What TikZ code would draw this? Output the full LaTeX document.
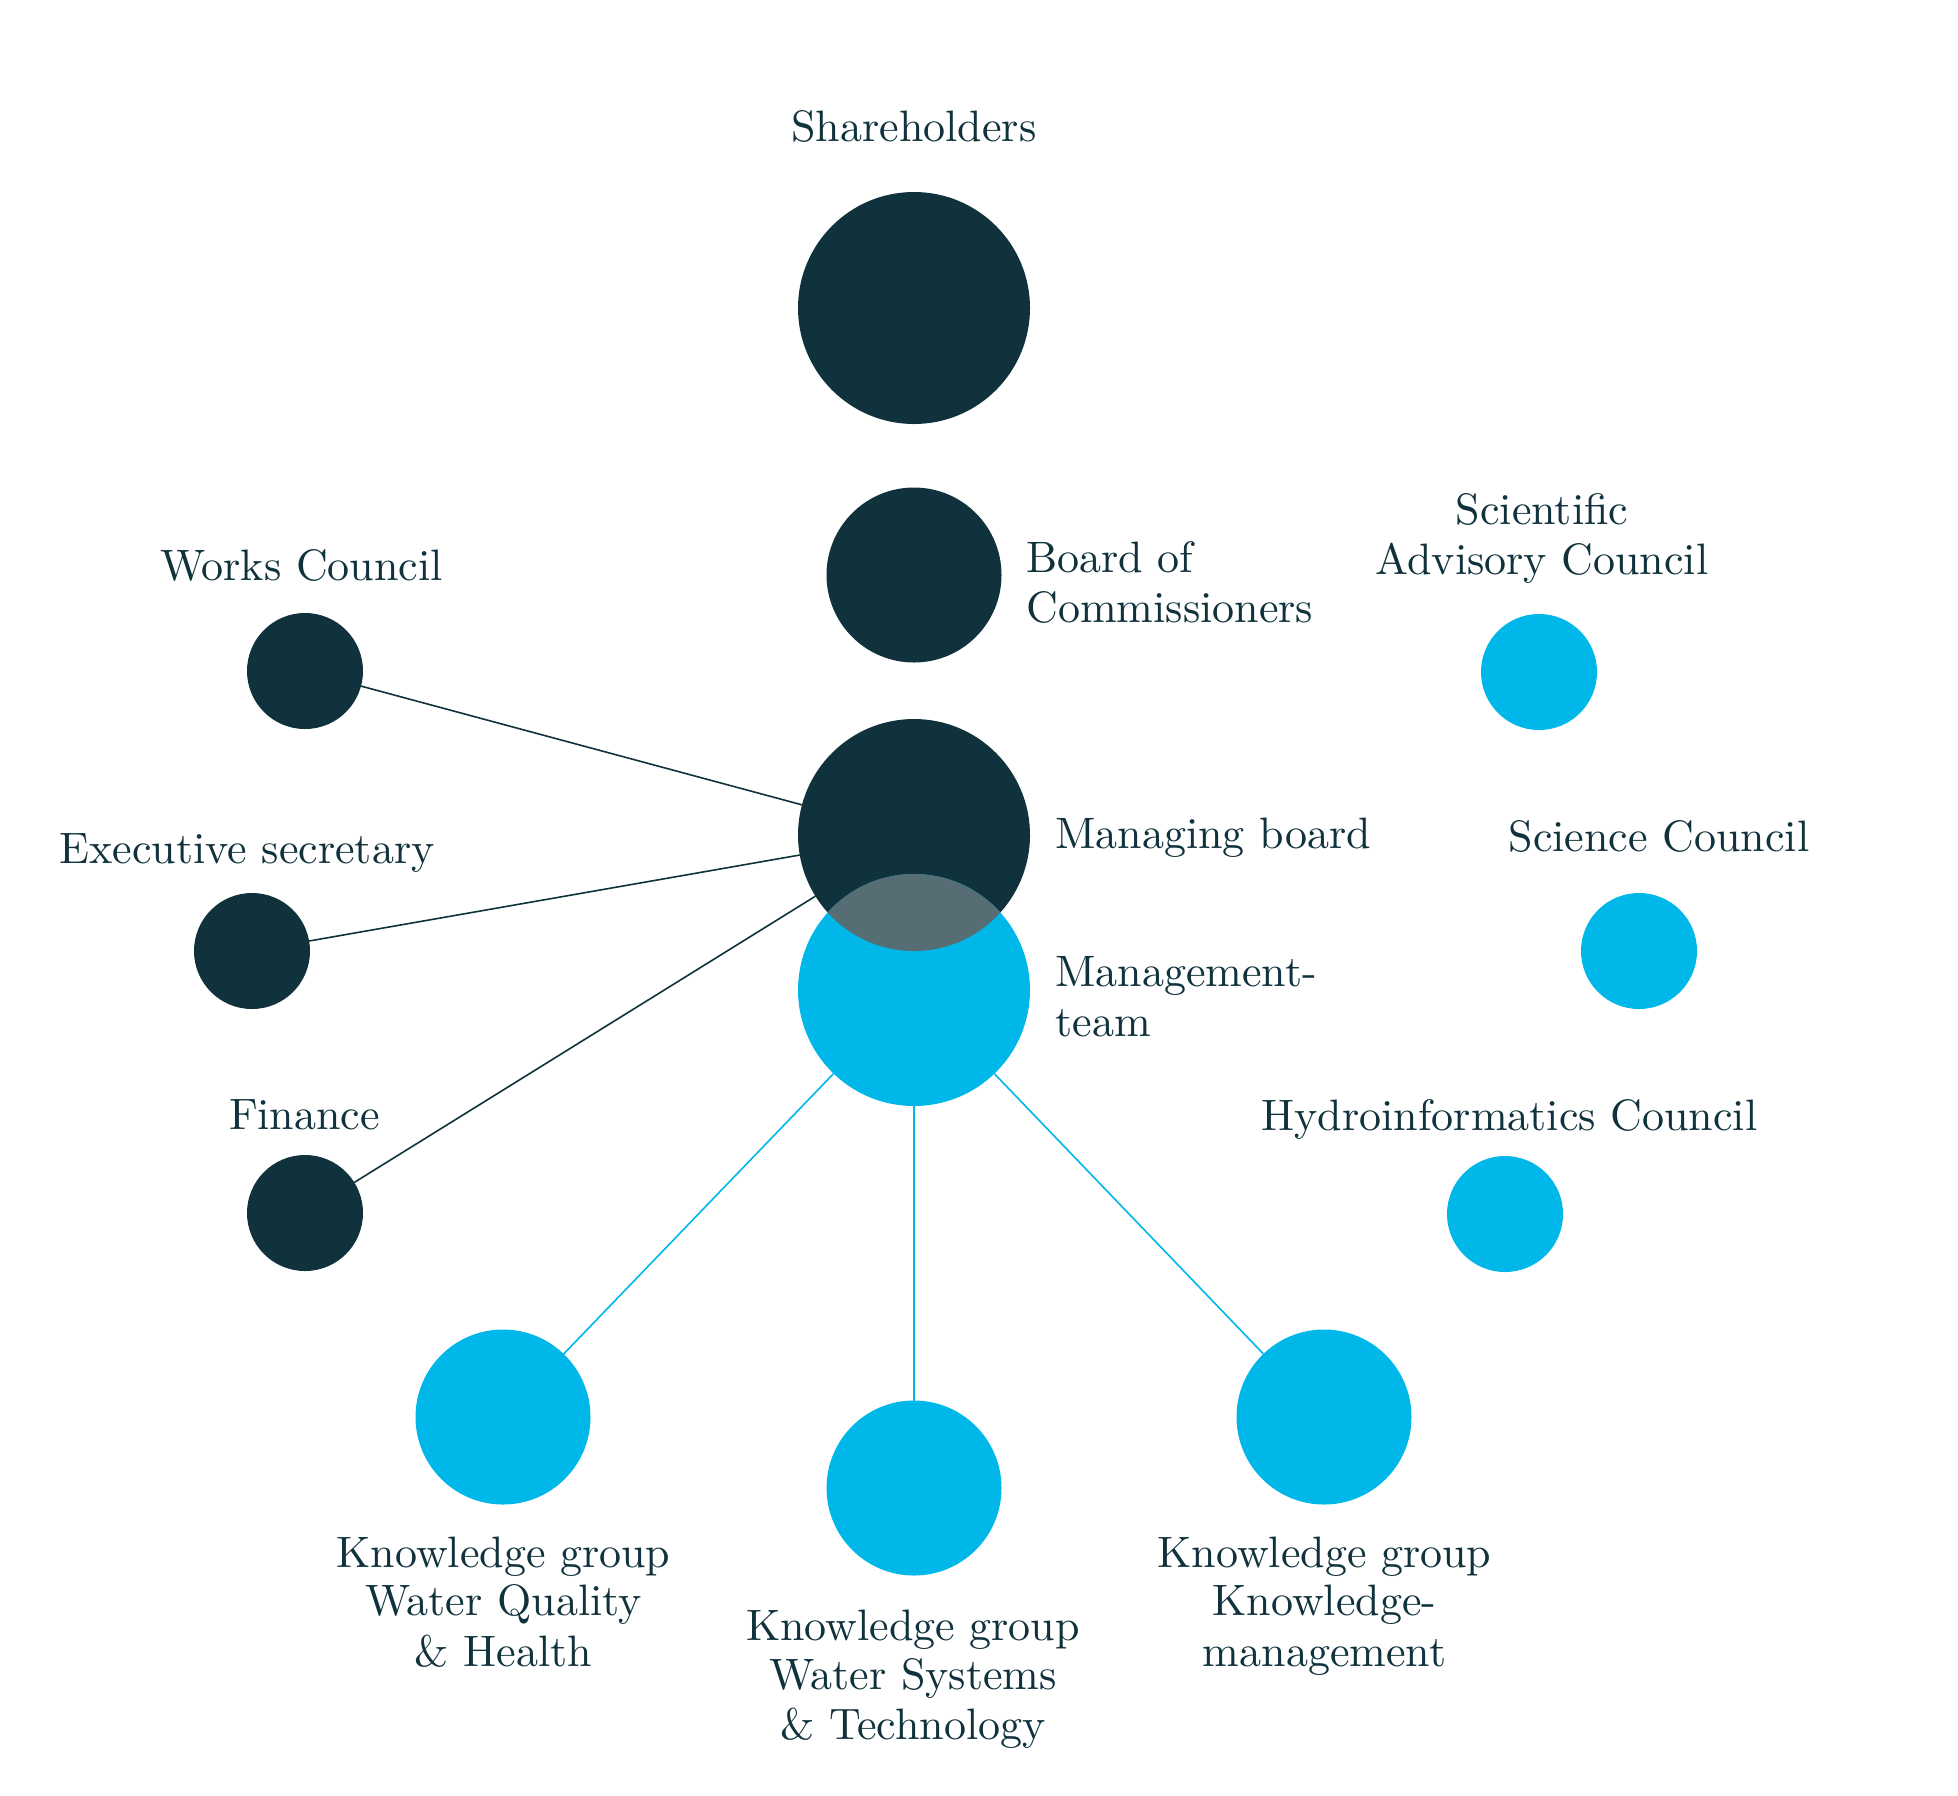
\documentclass[tikz,border=0pt]{standalone}
\usepackage{fontspec}
\setmainfont{lmroman10-regular}[Extension=.otf]
\definecolor{navy}{HTML}{10323D}
\definecolor{cyanblue}{HTML}{00B7EA}
\definecolor{lens}{HTML}{566E73}
\tikzset{
  dot/.style={circle, inner sep=0pt, outer sep=0pt, draw=none},
  bigdot/.style={dot, minimum size=116pt},
  middot/.style={dot, minimum size=87.5pt},
  smalldot/.style={dot, minimum size=58pt},
  dk/.style={fill=navy},
  bl/.style={fill=cyanblue},
  lab/.style={anchor=base, inner sep=0pt, text=navy, font=\fontsize{22}{25}\selectfont},
  labw/.style={lab, anchor=base west},
  dkline/.style={draw=navy, line width=0.8pt},
  blline/.style={draw=cyanblue, line width=0.8pt}
}
\begin{document}
\begin{tikzpicture}[x=0.5pt,y=-0.5pt]
\useasboundingbox (0,0) rectangle (1958,1795);
% circles
\node[bigdot,dk] (sh) at (914,308) {};
\node[middot,dk] (bc) at (914,575) {};
\node[smalldot,dk] (wc) at (305,671) {};
\node[smalldot,dk] (es) at (252,951) {};
\node[smalldot,dk] (fi) at (305,1213) {};
\node[smalldot,bl] (sac) at (1539,672) {};
\node[smalldot,bl] (sc) at (1639,951) {};
\node[smalldot,bl] (hc) at (1505,1214) {};
\node[middot,bl] (kg1) at (503,1417) {};
\node[middot,bl] (kg2) at (914,1488) {};
\node[middot,bl] (kg3) at (1324,1417) {};
\node[bigdot,dk] (mb) at (914,835) {};
\node[bigdot,bl] (mt) at (914,990) {};
\begin{scope}
  \clip (914,835) circle[radius=116];
  \fill[lens] (914,990) circle[radius=116];
\end{scope}
% connectors
\draw[dkline] (wc) -- (mb);
\draw[dkline] (es) -- (mb);
\draw[dkline] (fi) -- (mb);
\draw[blline] (mt) -- (kg1);
\draw[blline] (mt) -- (kg2);
\draw[blline] (mt) -- (kg3);
% labels
\node[lab] (tsh) at (914,141.5) {Shareholders};
\node[labw] (tbc1) at (1026,572) {Board of};
\node[labw] (tbc2) at (1026,622) {Commissioners};
\node[labw] (tmb) at (1055,848) {Managing board};
\node[labw] (tmt1) at (1055,986) {Management-};
\node[labw] (tmt2) at (1055,1036) {team};
\node[lab] (twc) at (301.5,580) {Works Council};
\node[lab] (tes) at (247,863) {Executive secretary};
\node[lab] (tfi) at (304.5,1129) {Finance};
\node[lab] (tsac1) at (1542,524) {Scientific};
\node[lab] (tsac2) at (1542,574) {Advisory Council};
\node[lab] (tsc) at (1659,851) {Science Council};
\node[lab] (thc) at (1509.5,1130) {Hydroinformatics Council};
\node[lab] (tkg1a) at (503.5,1567) {Knowledge group};
\node[lab] (tkg1b) at (503.5,1615) {Water Quality};
\node[lab] (tkg1c) at (503.5,1666) {\& Health};
\node[lab] (tkg2a) at (913,1640) {Knowledge group};
\node[lab] (tkg2b) at (913,1689) {Water Systems};
\node[lab] (tkg2c) at (913,1739) {\& Technology};
\node[lab] (tkg3a) at (1324.5,1567) {Knowledge group};
\node[lab] (tkg3b) at (1324.5,1615) {Knowledge-};
\node[lab] (tkg3c) at (1324.5,1666) {management};
\end{tikzpicture}
\end{document}
